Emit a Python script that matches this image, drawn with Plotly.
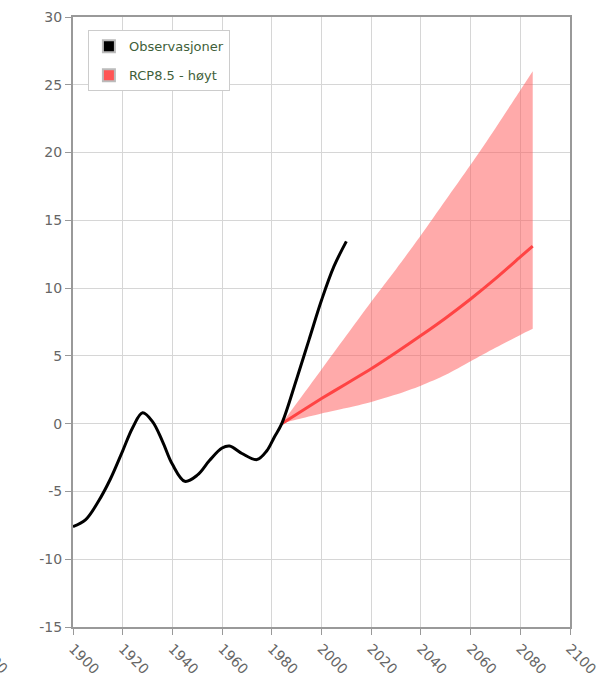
import plotly.graph_objects as go

# Observed temperature anomaly (smoothed), by year
obs_years = [1900, 1905, 1910, 1915, 1920, 1924, 1928, 1932, 1936, 1940, 1945, 1950,
             1955, 1960, 1963, 1968, 1974, 1978, 1981, 1984, 1990, 1995, 2000, 2005, 2010]
obs_values = [-7.6, -7.1, -5.8, -4.1, -2.0, -0.3, 0.8, 0.15, -1.3, -3.0, -4.25, -3.8,
              -2.7, -1.8, -1.65, -2.2, -2.65, -2.0, -1.0, 0.0, 3.3, 6.2, 9.1, 11.6, 13.45]

# RCP8.5 projection: median and spread
proj_years = [1984, 1990, 2000, 2010, 2020, 2030, 2040, 2050, 2060, 2070, 2080, 2085]
proj_median = [0.0, 0.7, 1.85, 2.95, 4.05, 5.25, 6.5, 7.8, 9.2, 10.7, 12.3, 13.1]
proj_upper = [0.0, 1.5, 4.0, 6.5, 9.0, 11.4, 13.9, 16.5, 19.1, 21.8, 24.6, 26.0]
proj_lower = [0.0, 0.3, 0.75, 1.15, 1.6, 2.15, 2.8, 3.6, 4.6, 5.6, 6.55, 7.0]

x_ticks = list(range(1900, 2101, 20))
y_ticks = list(range(-15, 31, 5))
y_tick_text = [str(v) for v in y_ticks]

legend_names = ["Observasjoner", "RCP8.5 - høyt"]
legend_colors = ["#000000", "#ff5555"]

fig = go.Figure()

# Spread band: lower edge, then upper edge filled down to it
fig.add_trace(go.Scatter(
    x=proj_years, y=proj_lower, mode="lines",
    line=dict(width=0, shape="spline", smoothing=0.8),
    hoverinfo="skip", showlegend=False,
))
fig.add_trace(go.Scatter(
    x=proj_years, y=proj_upper, mode="lines", fill="tonexty",
    fillcolor="rgba(255,85,85,0.5)",
    line=dict(width=0, shape="spline", smoothing=0.8),
    hoverinfo="skip", showlegend=False,
))
# Median projection
fig.add_trace(go.Scatter(
    x=proj_years, y=proj_median, mode="lines",
    line=dict(color="#ff4444", width=3, shape="spline", smoothing=0.8),
    showlegend=False,
))
# Observations
fig.add_trace(go.Scatter(
    x=obs_years, y=obs_values, mode="lines",
    line=dict(color="#000000", width=3, shape="spline", smoothing=1.0),
    showlegend=False,
))
# Square legend swatches
for name, color in zip(legend_names, legend_colors):
    fig.add_trace(go.Scatter(
        x=[None], y=[None], mode="markers", name=name, legendgroup=name,
        marker=dict(symbol="square", size=16, color=color,
                    line=dict(color="#bbbbbb", width=2)),
    ))

axis_common = dict(
    showgrid=True, gridcolor="#d6d6d6", gridwidth=1,
    showline=True, linecolor="#999999", linewidth=2, mirror=True,
    ticks="outside", ticklen=6, tickcolor="#999999", tickwidth=1,
    zeroline=False, automargin=False,
    tickfont=dict(family="DejaVu Sans", size=14, color="#666666"),
)

fig.update_xaxes(range=[1900, 2100], tickvals=x_ticks, tickangle=45, **axis_common)
fig.update_yaxes(range=[-15, 30], tickvals=y_ticks, ticktext=y_tick_text, **axis_common)

# Tick label from the neighbouring panel, running off the left edge
fig.add_annotation(
    text="2100", xref="paper", yref="paper", x=-0.16, y=-0.052,
    showarrow=False, textangle=45, xanchor="center", yanchor="middle",
    font=dict(family="DejaVu Sans", size=14, color="#666666"),
)

fig.update_layout(
    width=606, height=678,
    margin=dict(l=73, r=36, t=17, b=51),
    paper_bgcolor="white", plot_bgcolor="white",
    showlegend=True,
    legend=dict(
        x=0.03, y=0.978, xanchor="left", yanchor="top",
        bgcolor="white", bordercolor="#cccccc", borderwidth=1,
        font=dict(family="DejaVu Sans", size=13, color="#3f5f3a"),
        itemsizing="constant", tracegroupgap=9,
    ),
)

fig.write_html("out.html")
